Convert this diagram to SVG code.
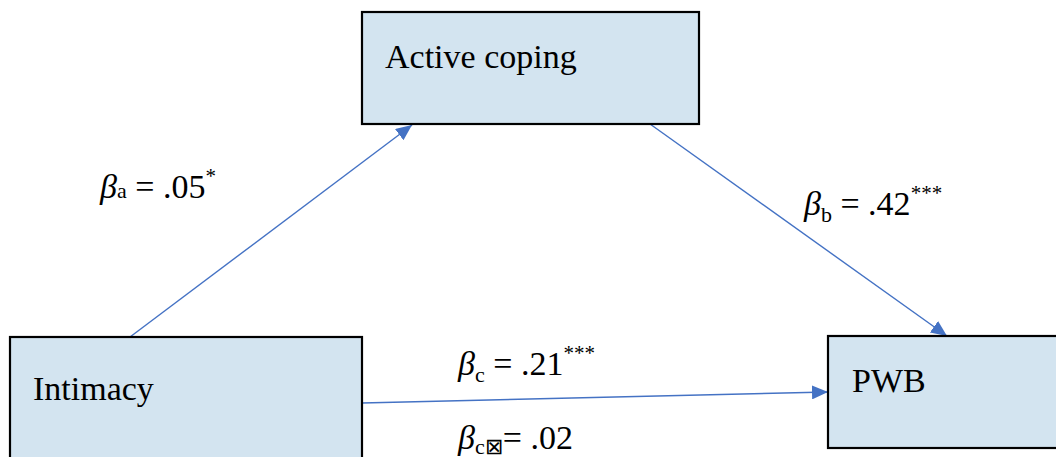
<svg xmlns="http://www.w3.org/2000/svg" width="1056" height="457" viewBox="0 0 1056 457">
<style>
.box{fill:#D3E4F0;stroke:#000;stroke-width:2.2}
.lbl{font-family:"Liberation Serif","Times New Roman",serif;font-size:34px;fill:#000}
.eq{font-family:"Liberation Serif","Times New Roman",serif;font-size:34px;fill:#000}
.conn{stroke:#4472C4;stroke-width:1.4;fill:none;marker-end:url(#ah)}
</style>
<defs>
<marker id="ah" markerUnits="userSpaceOnUse" markerWidth="18" markerHeight="14" refX="16" refY="7" orient="auto">
<path d="M0,0 L16,7 L0,14 Z" fill="#4472C4"/>
</marker>
</defs>
<rect width="1056" height="457" fill="#fff"/>
<g id="connectors">
<line class="conn" x1="130" y1="337" x2="412" y2="125"/>
<line class="conn" x1="650" y1="124" x2="947" y2="336"/>
<line class="conn" x1="362" y1="403" x2="828" y2="392"/>
</g>
<g id="active-coping">
<rect class="box" x="362" y="12" width="337" height="112"/>
<text class="lbl" x="385" y="68">Active coping</text>
</g>
<g id="intimacy">
<rect class="box" x="10" y="337" width="352" height="130"/>
<text class="lbl" x="33" y="400">Intimacy</text>
</g>
<g id="pwb">
<rect class="box" x="828" y="336" width="240" height="112"/>
<text class="lbl" x="852" y="392">PWB</text>
</g>
<g id="labels">
<text class="eq" x="100" y="198"><tspan font-style="italic">β</tspan><tspan font-size="22">a</tspan> = .05<tspan font-size="21" dy="-15">*</tspan></text>
<text class="eq" x="804" y="215"><tspan font-style="italic">β</tspan><tspan font-size="22" dy="7">b</tspan><tspan dy="-7"> = .42</tspan><tspan font-size="21" dy="-15">***</tspan></text>
<text class="eq" x="458" y="375"><tspan font-style="italic">β</tspan><tspan font-size="22" dy="7">c</tspan><tspan dy="-7"> = .21</tspan><tspan font-size="21" dy="-15">***</tspan></text>
<text class="eq" x="458" y="449"><tspan font-style="italic">β</tspan><tspan font-size="22" dy="5">c⊠</tspan><tspan dy="-5">= .02</tspan></text>
</g>
</svg>
